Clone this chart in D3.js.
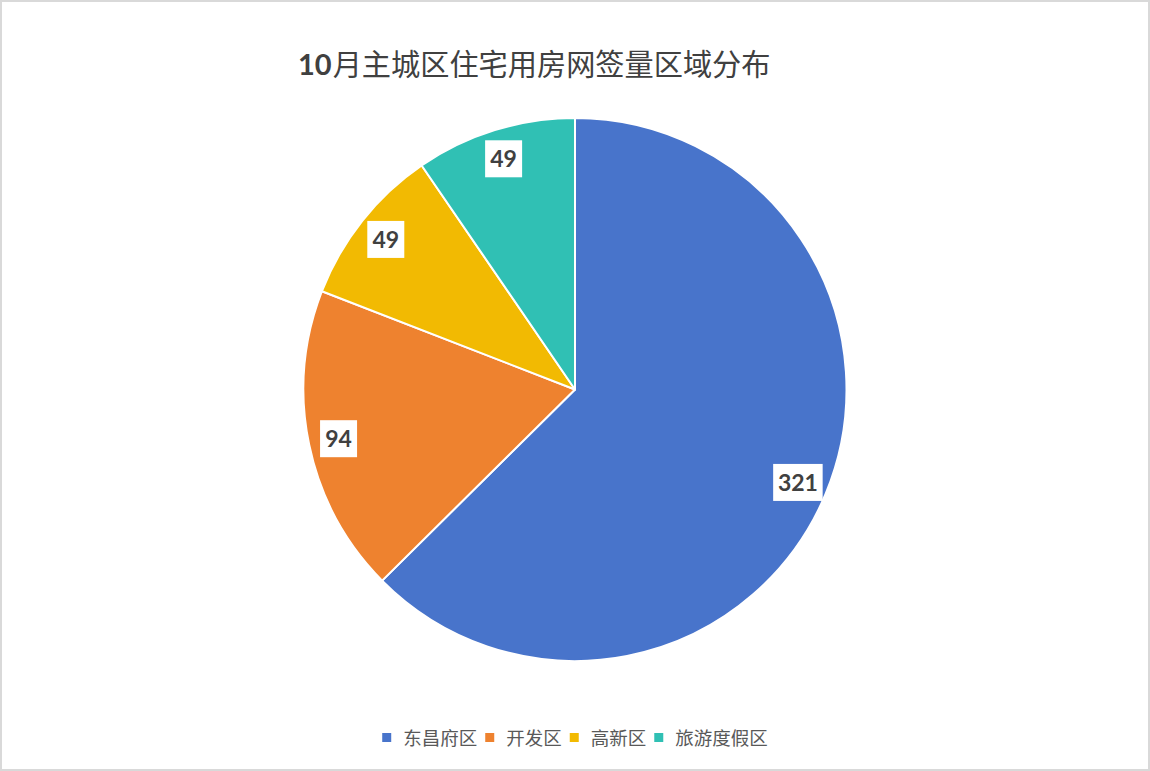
<!DOCTYPE html>
<html><head><meta charset="utf-8">
<script src="https://cdn.jsdelivr.net/npm/d3@7"></script>
<style>html,body{margin:0;padding:0;background:#fff;}</style>
</head><body>
<svg id="c" width="1150" height="771"></svg>
<script>
const titleNum = "10";
const titleText = "月主城区住宅用房网签量区域分布";
const categories = ["东昌府区", "开发区", "高新区", "旅游度假区"];
const values = [321, 94, 49, 49];
const colors = ["#4874CB", "#EE822F", "#F2BA02", "#30C0B4"];

const W = 1150, H = 771;
const svg = d3.select("#c");
svg.append("rect").attr("x",1).attr("y",1).attr("width",W-2).attr("height",H-2)
  .attr("fill","#fff").attr("stroke","#d9d9d9").attr("stroke-width",2);

const t = svg.append("text").attr("x",298).attr("y",75)
  .attr("fill","#404040");
t.append("tspan").attr("font-family","Lato, sans-serif").attr("font-weight","bold")
  .attr("font-size",29).text(titleNum);
t.append("tspan").attr("dx",1).attr("font-family","'Noto Sans CJK SC', sans-serif").attr("font-weight","400")
  .attr("font-size",29.2).text(titleText);

const cx = 575, cy = 389.5, r = 271.5;
const g = svg.append("g").attr("transform",`translate(${cx},${cy})`);
const pie = d3.pie().sort(null).value(d=>d)(values);
const arc = d3.arc().innerRadius(0).outerRadius(r);
g.selectAll("path").data(pie).join("path")
  .attr("d",arc).attr("fill",(d,i)=>colors[i])
  .attr("stroke","#fff").attr("stroke-width",2).attr("stroke-linejoin","round");

// labels: inside end
const fontSize = 23;
pie.forEach((d,i)=>{
  const txt = String(values[i]);
  const bw = txt.length*12.5 + 12, bh = 37;
  const a = (d.startAngle + d.endAngle)/2;
  const ux = Math.sin(a), uy = -Math.cos(a);
  const dist = r - 30;
  const px = ux*dist, py = uy*dist;
  g.append("rect").attr("x",px-bw/2).attr("y",py-bh/2).attr("width",bw).attr("height",bh).attr("fill","#fff");
  g.append("text").attr("x",px).attr("y",py).attr("dy","0.36em").attr("text-anchor","middle")
    .attr("font-family","Lato, 'Open Sans', sans-serif").attr("font-weight","bold")
    .attr("font-size",fontSize).attr("fill","#404040").text(txt);
});

// legend
const leg = svg.append("g");
const items = categories.map((c,i)=>{
  const gi = leg.append("g");
  gi.append("rect").attr("x",0).attr("y",-12).attr("width",9).attr("height",9).attr("fill",colors[i]);
  const tx = gi.append("text").attr("x",21).attr("y",0).attr("font-family","'Noto Sans CJK SC', sans-serif")
    .attr("font-size",18.5).attr("fill","#595959").text(c);
  return {gi, w: 21 + tx.node().getComputedTextLength()};
});
const gap = 8;
const totalW = d3.sum(items, d=>d.w) + gap*(items.length-1);
let x0 = cx - totalW/2;
items.forEach(it=>{ it.gi.attr("transform",`translate(${x0},745)`); x0 += it.w + gap; });
</script>
</body></html>
